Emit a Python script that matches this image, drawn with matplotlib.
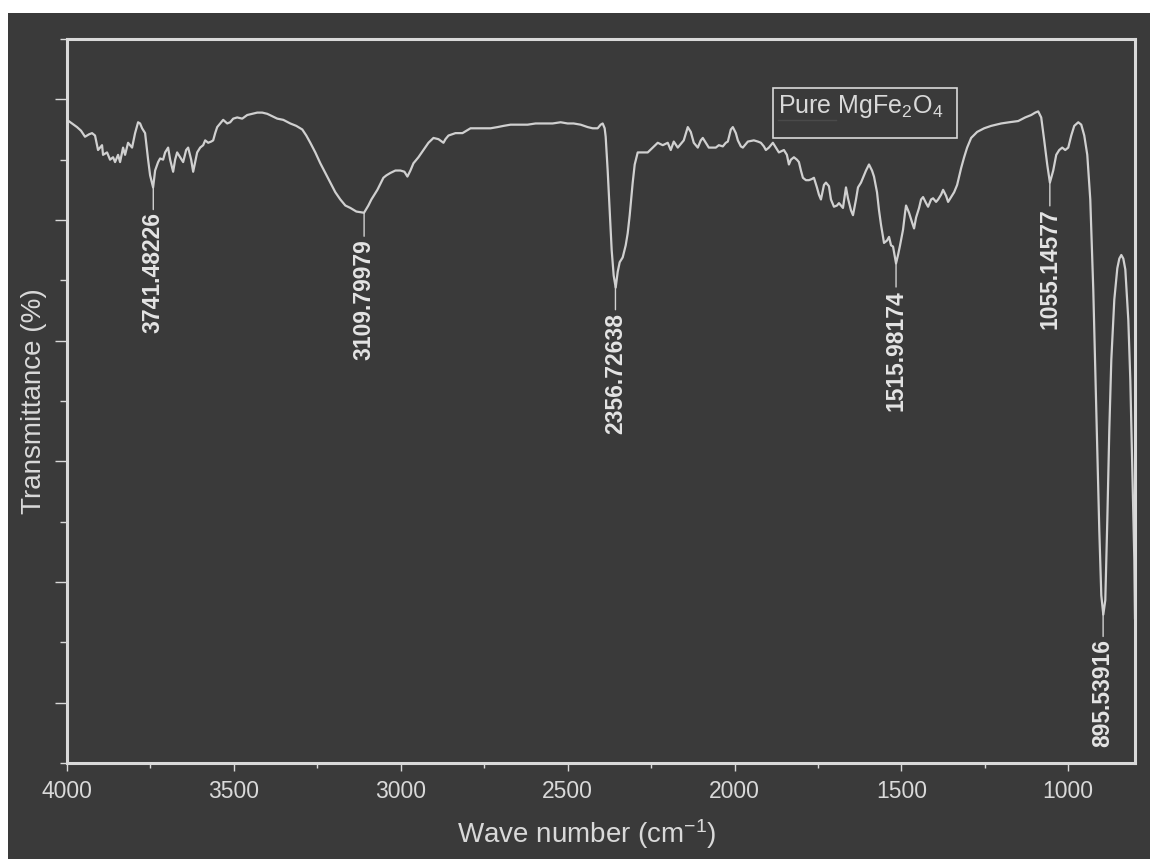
import numpy as np
import matplotlib.pyplot as plt
from matplotlib.patches import Rectangle
from matplotlib.ticker import MultipleLocator

# FTIR spectrum of pure MgFe2O4
wavenumber = [
    4000, 3985, 3970, 3958, 3946, 3934, 3925, 3916, 3907, 3895, 3892, 3880, 3871, 3862,
    3856, 3847, 3841, 3832, 3826, 3817, 3805, 3796, 3787, 3781, 3775, 3766, 3757, 3751,
    3742, 3736, 3727, 3721, 3712, 3706, 3697, 3691, 3682, 3676, 3670, 3661, 3652, 3643,
    3637, 3628, 3622, 3616, 3610, 3601, 3592, 3586, 3577, 3568, 3562, 3556, 3550, 3541,
    3532, 3520, 3511, 3502, 3490, 3475, 3460, 3445, 3430, 3415, 3400, 3385, 3370, 3352,
    3331, 3313, 3295, 3283, 3271, 3256, 3241, 3226, 3211, 3196, 3181, 3166, 3151, 3133,
    3110, 3097, 3088, 3079, 3070, 3061, 3052, 3043, 3031, 3016, 3001, 2989, 2980, 2971,
    2962, 2947, 2932, 2917, 2902, 2887, 2872, 2866, 2857, 2836, 2815, 2803, 2791, 2761,
    2731, 2710, 2692, 2671, 2641, 2620, 2596, 2572, 2545, 2521, 2500, 2482, 2461, 2440,
    2425, 2410, 2401, 2395, 2389, 2386, 2380, 2374, 2368, 2362, 2356, 2350, 2344, 2335,
    2326, 2320, 2314, 2305, 2299, 2290, 2275, 2260, 2245, 2230, 2215, 2200, 2191, 2182,
    2170, 2161, 2152, 2140, 2131, 2122, 2110, 2101, 2095, 2086, 2077, 2065, 2056, 2047,
    2035, 2026, 2020, 2011, 2005, 1996, 1990, 1981, 1975, 1966, 1960, 1942, 1930, 1921,
    1912, 1906, 1897, 1885, 1876, 1867, 1852, 1843, 1837, 1831, 1822, 1813, 1807, 1801,
    1795, 1786, 1777, 1768, 1762, 1753, 1747, 1741, 1732, 1726, 1717, 1711, 1702, 1693,
    1687, 1681, 1675, 1666, 1660, 1651, 1645, 1636, 1630, 1621, 1615, 1606, 1597, 1588,
    1582, 1573, 1567, 1561, 1552, 1543, 1537, 1531, 1525, 1516, 1510, 1504, 1495, 1489,
    1486, 1480, 1477, 1468, 1462, 1456, 1447, 1441, 1435, 1426, 1420, 1411, 1405, 1396,
    1390, 1381, 1375, 1366, 1360, 1351, 1342, 1333, 1327, 1321, 1312, 1303, 1291, 1273,
    1252, 1231, 1201, 1177, 1150, 1129, 1111, 1099, 1090, 1081, 1072, 1063, 1055, 1045,
    1036, 1027, 1018, 1009, 1000, 991, 982, 970, 961, 952, 943, 934, 925, 916,
    907, 901, 895, 889, 883, 877, 871, 862, 853, 847, 841, 835, 829, 820,
    814, 808, 802, 800,
]
transmittance = [
    53.3, 53.0, 52.7, 52.4, 51.9, 52.1, 52.2, 52.0, 50.8, 51.2, 50.4, 50.6, 50.0, 50.2,
    49.8, 50.4, 49.8, 51.0, 50.4, 51.4, 51.0, 52.2, 53.1, 53.0, 52.6, 52.2, 50.0, 48.7,
    47.7, 49.1, 49.8, 50.1, 50.0, 50.6, 51.0, 50.0, 49.0, 50.0, 50.6, 50.2, 49.8, 50.8,
    51.0, 50.0, 49.0, 49.8, 50.6, 51.0, 51.2, 51.6, 51.4, 51.5, 51.6, 52.2, 52.7, 53.0,
    53.3, 53.0, 53.1, 53.4, 53.5, 53.4, 53.7, 53.8, 53.9, 53.9, 53.8, 53.6, 53.4, 53.3,
    53.0, 52.8, 52.5, 52.0, 51.4, 50.6, 49.7, 48.9, 48.1, 47.3, 46.7, 46.2, 46.0, 45.7,
    45.6, 46.2, 46.7, 47.1, 47.5, 48.0, 48.5, 48.7, 48.9, 49.1, 49.1, 49.0, 48.6, 49.1,
    49.7, 50.2, 50.8, 51.4, 51.8, 51.7, 51.4, 51.7, 52.0, 52.2, 52.2, 52.4, 52.6, 52.6,
    52.6, 52.7, 52.8, 52.9, 52.9, 52.9, 53.0, 53.0, 53.0, 53.1, 53.0, 53.0, 52.9, 52.7,
    52.6, 52.6, 52.9, 53.0, 52.6, 51.9, 49.1, 45.8, 42.5, 40.4, 39.4, 40.7, 41.5, 41.9,
    42.9, 43.9, 45.4, 48.1, 49.6, 50.6, 50.6, 50.6, 51.0, 51.4, 51.2, 51.4, 50.8, 51.5,
    51.0, 51.3, 51.6, 52.7, 52.3, 51.4, 51.0, 51.6, 51.8, 51.4, 51.0, 51.0, 51.0, 51.2,
    51.1, 51.4, 51.5, 52.5, 52.7, 52.2, 51.6, 51.1, 51.0, 51.3, 51.5, 51.6, 51.5, 51.4,
    51.1, 50.8, 51.0, 51.4, 51.0, 50.6, 50.8, 50.4, 49.6, 50.0, 50.2, 50.0, 49.8, 49.1,
    48.5, 48.3, 48.3, 48.4, 48.5, 47.7, 47.1, 46.7, 47.9, 48.1, 47.8, 46.7, 46.1, 46.2,
    46.4, 46.2, 46.0, 47.7, 46.8, 45.8, 45.4, 46.7, 47.7, 48.1, 48.5, 49.1, 49.6, 49.1,
    48.6, 47.3, 45.8, 44.6, 43.1, 43.3, 43.6, 42.9, 42.8, 41.4, 42.1, 42.9, 44.2, 45.6,
    46.2, 45.8, 45.6, 44.8, 44.3, 45.2, 46.0, 46.7, 46.9, 46.4, 46.1, 46.7, 46.8, 46.5,
    46.7, 47.1, 47.5, 47.0, 46.5, 46.9, 47.3, 47.9, 48.6, 49.3, 50.2, 51.0, 51.8, 52.3,
    52.6, 52.8, 53.0, 53.1, 53.2, 53.5, 53.7, 53.9, 54.0, 53.5, 51.6, 49.6, 48.1, 49.1,
    50.4, 50.8, 51.0, 50.8, 51.0, 52.0, 52.8, 53.1, 52.9, 52.0, 50.4, 46.7, 39.2, 29.3,
    19.3, 13.9, 12.3, 13.5, 20.1, 27.6, 33.4, 38.4, 41.0, 41.8, 42.1, 41.8, 40.9, 36.7,
    31.7, 24.3, 16.8, 12.0,
]

peak_positions = [3741.48226, 3109.79979, 2356.72638, 1515.98174, 1055.14577, 895.53916]
peak_labels = ['3741.48226', '3109.79979', '2356.72638', '1515.98174', '1055.14577', '895.53916']
x_ticks = [4000, 3500, 3000, 2500, 2000, 1500, 1000]
series_name = 'Pure MgFe$_2$O$_4$'

plt.rcParams['font.family'] = ['Liberation Sans', 'DejaVu Sans']
plt.rcParams['mathtext.fontset'] = 'custom'
plt.rcParams['mathtext.rm'] = 'Liberation Sans'
plt.rcParams['mathtext.it'] = 'Liberation Sans:italic'

bg = '#3a3a3a'
fg = '#d9d9d9'
line_col = '#d0d0d0'

fig = plt.figure(figsize=(11.5, 8.59), dpi=100, facecolor='white')
fig.patches.append(Rectangle((8 / 1150, 0), 1, (859 - 13) / 859, transform=fig.transFigure,
                             facecolor=bg, edgecolor='none', zorder=-10))
ax = fig.add_axes([67 / 1150, 96 / 859, 1068 / 1150, 724 / 859])
ax.set_facecolor(bg)

ax.plot(wavenumber, transmittance, color=line_col, lw=1.6)
ax.set_xlim(4000, 800)
ax.set_ylim(0, 60)

ax.set_xticks(x_ticks)
ax.xaxis.set_minor_locator(MultipleLocator(250))
ax.yaxis.set_major_locator(MultipleLocator(10, offset=5))
ax.yaxis.set_minor_locator(MultipleLocator(5))
ax.tick_params(axis='both', which='both', direction='out', color=fg, width=1,
               labelcolor=fg, labelsize=16.5)
ax.tick_params(axis='x', which='major', length=6, pad=6)
ax.tick_params(axis='x', which='minor', length=3.5)
ax.tick_params(axis='y', which='major', length=9, labelleft=False)
ax.tick_params(axis='y', which='minor', length=5)

for s in ax.spines.values():
    s.set_color(fg)
    s.set_linewidth(2.2)

ax.set_xlabel('Wave number (cm$^{-1}$)', fontsize=20, color=fg)
ax.xaxis.set_label_coords(0.487, -0.075)
ax.set_ylabel('Transmittance (%)', fontsize=20, color=fg)
ax.yaxis.set_label_coords(-0.019, 0.5)

# peak labels with leader lines
wn_sorted = np.array(wavenumber[::-1])
t_sorted = np.array(transmittance[::-1])
for wn, lab in zip(peak_positions, peak_labels):
    t = np.interp(wn, wn_sorted, t_sorted)
    ax.annotate(lab, xy=(wn, t), xytext=(0, -19), textcoords='offset points',
                rotation=90, ha='center', va='top', fontsize=16.5, fontweight='bold',
                color='#e4e4e4',
                arrowprops=dict(arrowstyle='-', color=line_col, lw=1,
                                shrinkA=0, shrinkB=0, relpos=(0.5, 1.0)))

# legend box
ax.add_patch(Rectangle((0.661, 0.863), 0.172, 0.069, transform=ax.transAxes,
                       facecolor='none', edgecolor=fg, lw=1.2))
ax.text(0.666, 0.925, series_name, transform=ax.transAxes, ha='left', va='top',
        fontsize=18, color=fg)
ax.plot([0.666, 0.72], [0.888, 0.888], transform=ax.transAxes, color='#4a4a4a', lw=1)

fig.savefig('out.png', dpi=100, facecolor=fig.get_facecolor())
